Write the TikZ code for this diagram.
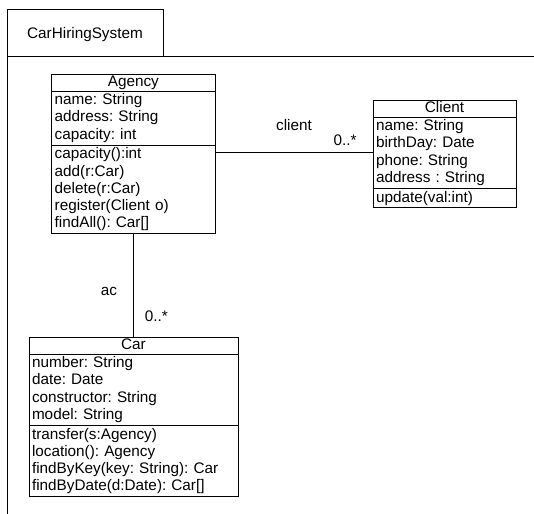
\documentclass[tikz,border=0pt]{standalone}
\usepackage{fontspec}
\setmainfont{Liberation Sans}
\usetikzlibrary{positioning}
\frenchspacing
\newcommand{\umlfont}{\fontsize{15.3}{17.3}\selectfont}
\tikzset{
  umlbox/.style={draw, line width=0.8pt, outer sep=0pt, inner xsep=3pt, inner ysep=2.6pt, font=\umlfont, align=left},
  umltitle/.style={umlbox, align=center, text height=11pt, text depth=3.5pt, inner ysep=1.25pt},
  role/.style={font=\umlfont, inner sep=0pt},
}
\begin{document}
\begin{tikzpicture}[x=1pt,y=1pt,line width=0.8pt]
\useasboundingbox (0,0) rectangle (534,513);
% package frame
\node[draw, line width=1pt, outer sep=0pt, minimum width=156pt, minimum height=47.5pt, text height=11pt, text depth=0pt, font=\umlfont] (pkg) at (85,479.75) {CarHiringSystem};
\draw[line width=1pt] (pkg.south west) -- ++(0,-470) (pkg.south west) -- ++(540,0);
% Agency
\node[umltitle, text width=157.3pt, anchor=north west] (agency) at (51.7,439) {Agency};
\node[umlbox, text width=157.3pt, below=0pt of agency] (agency-att) {name: String\\address: String\\capacity: int};
\node[umlbox, text width=157.3pt, below=0pt of agency-att] (agency-ops) {capacity():int\\add(r:Car)\\delete(r:Car)\\register(Client o)\\findAll(): Car[]};
% Client
\node[umltitle, text width=137pt, anchor=north west] (client) at (373,413) {Client};
\node[umlbox, text width=137pt, below=0pt of client] (client-att) {name: String\\birthDay: Date\\phone: String\\address : String};
\node[umlbox, text width=137pt, below=0pt of client-att] (client-ops) {update(val:int)};
% Car
\node[umltitle, text width=203pt, anchor=north west] (car) at (29,176) {Car};
\node[umlbox, text width=203pt, below=0pt of car] (car-att) {number: String\\date: Date\\constructor: String\\model: String};
\node[umlbox, text width=203pt, below=0pt of car-att] (car-ops) {transfer(s:Agency)\\location(): Agency\\findByKey(key: String): Car\\findByDate(d:Date): Car[]};
% associations
\draw (agency-ops.east |- client-att.west) -- (client-att.west)
  node[role, pos=0.5, anchor=base, yshift=22pt] {client}
  node[role, at end, anchor=base east, xshift=-16pt, yshift=7pt] {0..*};
\draw (agency-ops.south) -- (agency-ops.south |- car.north)
  node[role, at end, anchor=base east, xshift=-16pt, yshift=41pt] {ac}
  node[role, at end, anchor=base west, xshift=11pt, yshift=15pt] {0..*};
\end{tikzpicture}
\end{document}
